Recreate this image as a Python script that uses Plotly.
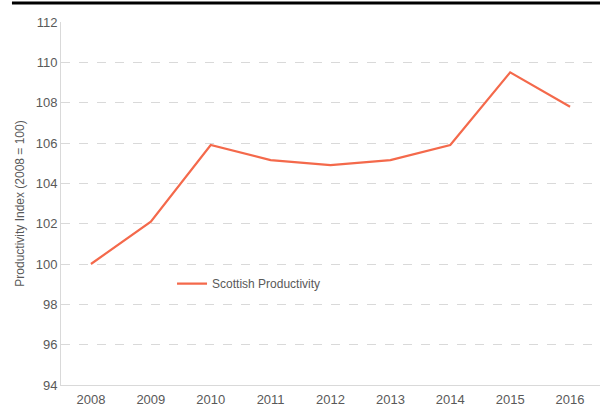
import plotly.graph_objects as go

years = ["2008", "2009", "2010", "2011", "2012", "2013", "2014", "2015", "2016"]
productivity = [100.0, 102.1, 105.9, 105.15, 104.9, 105.15, 105.9, 109.5, 107.8]
y_ticks = [94, 96, 98, 100, 102, 104, 106, 108, 110, 112]

fig = go.Figure()
fig.add_trace(go.Scatter(
    x=years, y=productivity, mode="lines", name="Scottish Productivity",
    line=dict(color="#F4694B", width=2.2),
))

fig.update_layout(
    width=600, height=406,
    margin=dict(l=61, r=0, t=22, b=21),
    paper_bgcolor="white", plot_bgcolor="white",
    font=dict(family="Liberation Sans, Arial, sans-serif", color="#595959", size=13),
    showlegend=True,
    legend=dict(x=0.206, y=0.279, xanchor="left", yanchor="middle",
                bgcolor="rgba(0,0,0,0)", font=dict(size=12, color="#595959"),
                itemwidth=30),
    xaxis=dict(type="category", range=[-0.5, 8.5], showgrid=False,
               showline=True, linecolor="#d9d9d9", linewidth=1,
               ticks="", tickfont=dict(size=13), ticklabelstandoff=2,
               automargin=False),
    yaxis=dict(range=[94, 112], tickvals=y_ticks, showgrid=True,
               gridcolor="#d9d9d9", griddash="dash", gridwidth=1,
               showline=True, linecolor="#d9d9d9", linewidth=1,
               zeroline=False, ticks="", tickfont=dict(size=13),
               automargin=False,
               title=dict(text="Productivity Index (2008 = 100)",
                          font=dict(size=12, color="#595959"), standoff=8)),
)

fig.add_shape(type="line", xref="paper", yref="paper",
              x0=-0.091, x1=1.0, y0=1.052, y1=1.052,
              line=dict(color="black", width=3))

fig.write_html("out.html",
               config={"displayModeBar": False},
               post_script="document.body.style.margin='0';document.body.style.overflow='hidden';")
